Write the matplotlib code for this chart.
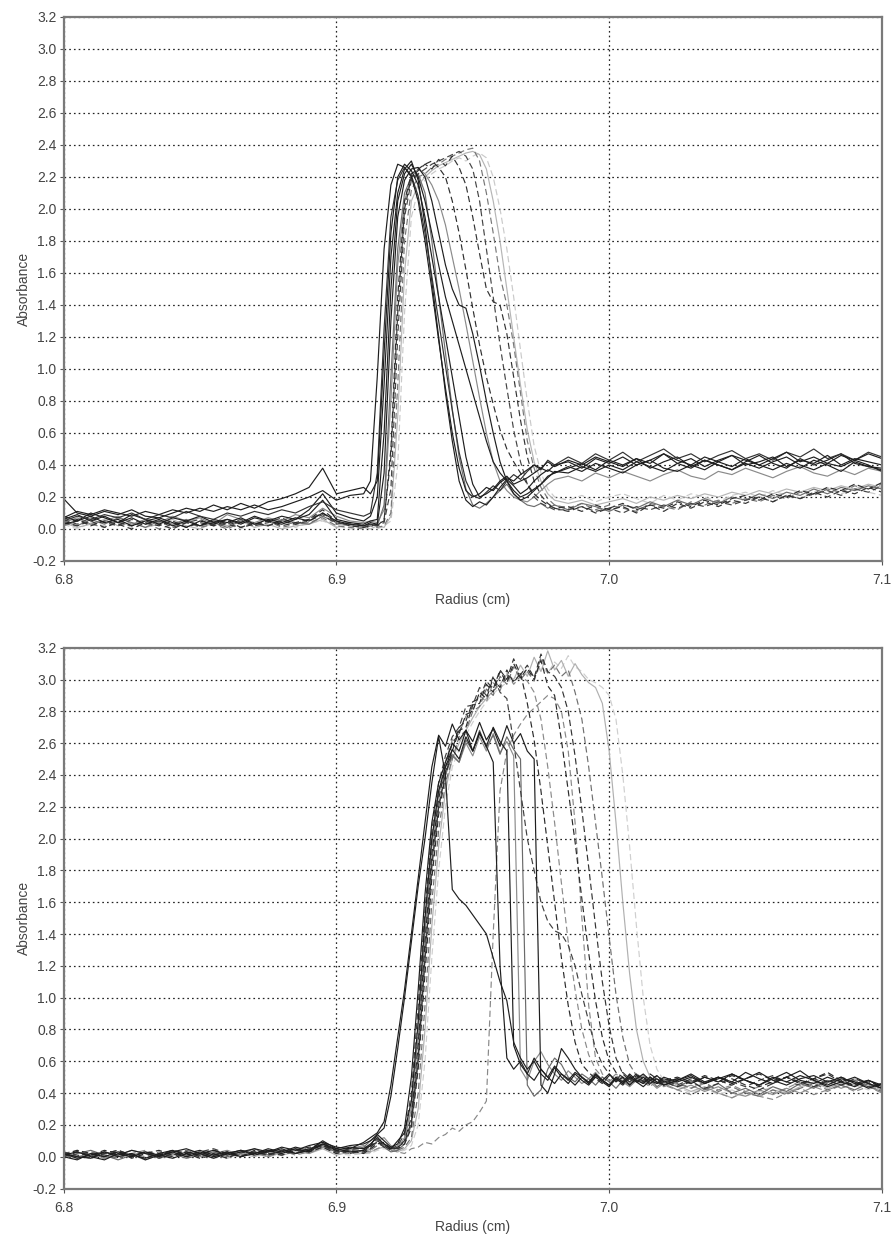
import numpy as np
import matplotlib
matplotlib.use("Agg")
import matplotlib.pyplot as plt

plt.rcParams['font.family'] = ['Liberation Sans', 'DejaVu Sans']
plt.rcParams['axes.unicode_minus'] = False
plt.rcParams['lines.scale_dashes'] = False

# radial sampling positions (cm), coarser on the plateaus, finer across the boundary
top_x = np.round(np.concatenate([np.arange(6.800, 6.906, 0.005),
                                 np.arange(6.910, 6.9801, 0.0025),
                                 np.arange(6.985, 7.1001, 0.005)]), 4)
bot_x = np.round(np.concatenate([np.arange(6.800, 6.906, 0.005),
                                 np.arange(6.910, 7.0201, 0.0025),
                                 np.arange(7.025, 7.1001, 0.005)]), 4)

# ---- top panel scans (absorbance) ----
top_s1 = [0.19, 0.10, 0.08, 0.11, 0.09, 0.12, 0.08, 0.07, 0.10, 0.13, 0.11, 0.15, 0.12, 0.16, 0.13, 0.17, 0.19, 0.22, 0.26, 0.38, 0.22, 0.24,
          0.26, 0.22, 0.30, 1.10, 1.85, 2.20, 2.28, 2.24, 2.15, 1.95, 1.70, 1.45, 1.20, 0.95, 0.70, 0.45, 0.28, 0.20, 0.22, 0.25, 0.30, 0.33, 0.28, 0.30, 0.32, 0.35, 0.38, 0.36, 0.40,
          0.42, 0.38, 0.44, 0.41, 0.45, 0.40, 0.43, 0.47, 0.41, 0.44, 0.39, 0.43, 0.46, 0.40, 0.42, 0.45, 0.39, 0.43, 0.41, 0.46, 0.40, 0.44, 0.42, 0.40]
top_s2 = [0.06, 0.09, 0.05, 0.08, 0.04, 0.07, 0.03, 0.06, 0.02, 0.05, 0.08, 0.04, 0.06, 0.03, 0.07, 0.05, 0.08, 0.06, 0.12, 0.22, 0.10, 0.07,
          0.05, 0.08, 0.20, 0.90, 1.70, 2.10, 2.25, 2.30, 2.18, 1.90, 1.55, 1.20, 0.85, 0.55, 0.30, 0.18, 0.14, 0.17, 0.15, 0.20, 0.26, 0.31, 0.27, 0.22, 0.25, 0.30, 0.34, 0.37, 0.35,
          0.38, 0.41, 0.37, 0.43, 0.40, 0.44, 0.38, 0.42, 0.45, 0.39, 0.43, 0.40, 0.37, 0.42, 0.46, 0.41, 0.38, 0.44, 0.40, 0.43, 0.47, 0.41, 0.39, 0.38]
top_s3 = [0.03, 0.05, 0.08, 0.04, 0.06, 0.02, 0.05, 0.07, 0.04, 0.01, 0.05, 0.03, 0.06, 0.04, 0.08, 0.05, 0.03, 0.06, 0.09, 0.18, 0.06, 0.04,
          0.03, 0.05, 0.06, 0.60, 1.50, 2.05, 2.22, 2.28, 2.20, 2.05, 1.85, 1.65, 1.45, 1.30, 1.15, 1.00, 0.85, 0.70, 0.55, 0.42, 0.35, 0.30, 0.24, 0.20, 0.22, 0.25, 0.28, 0.32, 0.36,
          0.35, 0.39, 0.36, 0.40, 0.37, 0.42, 0.39, 0.36, 0.41, 0.38, 0.43, 0.40, 0.37, 0.41, 0.38, 0.42, 0.45, 0.40, 0.37, 0.41, 0.39, 0.43, 0.40, 0.36]
top_s4 = [0.08, 0.05, 0.10, 0.07, 0.04, 0.09, 0.06, 0.03, 0.07, 0.05, 0.02, 0.06, 0.04, 0.07, 0.03, 0.06, 0.04, 0.07, 0.05, 0.10, 0.05, 0.03,
          0.02, 0.04, 0.03, 0.35, 1.30, 1.95, 2.18, 2.25, 2.26, 2.20, 2.05, 1.85, 1.65, 1.50, 1.40, 1.38, 1.22, 1.02, 0.80, 0.60, 0.42, 0.30, 0.22, 0.18, 0.20, 0.24, 0.28, 0.33, 0.35,
          0.39, 0.36, 0.41, 0.38, 0.35, 0.40, 0.43, 0.38, 0.36, 0.40, 0.37, 0.42, 0.39, 0.44, 0.40, 0.37, 0.41, 0.38, 0.43, 0.40, 0.36, 0.42, 0.39, 0.37]
top_s5 = [0.07, 0.11, 0.09, 0.12, 0.10, 0.08, 0.11, 0.09, 0.12, 0.10, 0.13, 0.11, 0.14, 0.12, 0.15, 0.12, 0.14, 0.17, 0.20, 0.24, 0.18, 0.21,
          0.22, 0.30, 0.95, 1.75, 2.15, 2.28, 2.26, 2.20, 2.05, 1.80, 1.50, 1.18, 0.88, 0.60, 0.38, 0.24, 0.20, 0.22, 0.26, 0.24, 0.29, 0.32, 0.30, 0.34, 0.37, 0.40, 0.38, 0.42, 0.39,
          0.43, 0.40, 0.45, 0.42, 0.39, 0.44, 0.41, 0.47, 0.43, 0.40, 0.45, 0.42, 0.46, 0.43, 0.40, 0.44, 0.48, 0.42, 0.45, 0.41, 0.46, 0.43, 0.47, 0.44]
top_s6 = [0.05, 0.08, 0.06, 0.09, 0.07, 0.10, 0.06, 0.09, 0.07, 0.11, 0.08, 0.06, 0.10, 0.08, 0.11, 0.09, 0.12, 0.10, 0.14, 0.17, 0.12, 0.10,
          0.08, 0.10, 0.35, 1.25, 1.95, 2.18, 2.26, 2.21, 2.08, 1.85, 1.58, 1.30, 1.02, 0.74, 0.48, 0.30, 0.21, 0.19, 0.23, 0.27, 0.24, 0.30, 0.34, 0.31, 0.36, 0.40, 0.37, 0.43, 0.40,
          0.45, 0.41, 0.47, 0.43, 0.48, 0.42, 0.46, 0.50, 0.44, 0.47, 0.42, 0.46, 0.49, 0.44, 0.47, 0.43, 0.48, 0.45, 0.50, 0.44, 0.47, 0.43, 0.48, 0.45]
top_g1 = [0.05, 0.02, 0.06, 0.03, 0.07, 0.04, 0.01, 0.05, 0.03, 0.06, 0.02, 0.04, 0.01, 0.05, 0.03, 0.02, 0.06, 0.04, 0.03, 0.08, 0.04, 0.02,
          0.01, 0.03, 0.02, 0.15, 0.95, 1.75, 2.10, 2.20, 2.22, 2.10, 1.80, 1.45, 1.10, 0.75, 0.45, 0.25, 0.15, 0.13, 0.16, 0.20, 0.24, 0.28, 0.22, 0.18, 0.15, 0.14, 0.16, 0.13, 0.15,
          0.12, 0.16, 0.14, 0.11, 0.15, 0.13, 0.17, 0.14, 0.18, 0.15, 0.19, 0.16, 0.20, 0.18, 0.22, 0.19, 0.23, 0.21, 0.25, 0.22, 0.26, 0.24, 0.27, 0.25]
top_g2 = [0.04, 0.07, 0.03, 0.05, 0.08, 0.03, 0.06, 0.04, 0.08, 0.05, 0.07, 0.03, 0.09, 0.06, 0.04, 0.07, 0.05, 0.09, 0.07, 0.13, 0.08, 0.05,
          0.04, 0.05, 0.04, 0.12, 0.80, 1.65, 2.05, 2.20, 2.25, 2.22, 2.15, 2.05, 1.90, 1.70, 1.50, 1.28, 1.05, 0.82, 0.60, 0.42, 0.30, 0.24, 0.20, 0.18, 0.17, 0.20, 0.24, 0.28, 0.31,
          0.33, 0.30, 0.35, 0.32, 0.36, 0.33, 0.30, 0.34, 0.37, 0.33, 0.31, 0.36, 0.34, 0.38, 0.35, 0.32, 0.36, 0.39, 0.35, 0.33, 0.37, 0.34, 0.38, 0.36]
top_d1 = [0.03, 0.06, 0.02, 0.05, 0.03, 0.00, 0.04, 0.02, 0.05, 0.01, 0.04, 0.02, 0.05, 0.01, 0.03, 0.05, 0.02, 0.04, 0.06, 0.12, 0.05, 0.02,
          0.01, 0.02, 0.03, 0.05, 0.50, 1.45, 2.05, 2.22, 2.25, 2.28, 2.30, 2.26, 2.20, 2.05, 1.85, 1.62, 1.38, 1.15, 0.95, 0.78, 0.62, 0.50, 0.42, 0.35, 0.28, 0.22, 0.18, 0.15, 0.13,
          0.14, 0.11, 0.15, 0.12, 0.14, 0.10, 0.15, 0.13, 0.17, 0.14, 0.18, 0.15, 0.19, 0.21, 0.18, 0.22, 0.20, 0.24, 0.22, 0.26, 0.24, 0.28, 0.25, 0.29]
top_d2 = [0.06, 0.03, 0.07, 0.04, 0.02, 0.06, 0.03, 0.05, 0.01, 0.04, 0.06, 0.02, 0.03, 0.06, 0.02, 0.04, 0.07, 0.03, 0.05, 0.09, 0.03, 0.04,
          0.02, 0.03, 0.02, 0.04, 0.25, 1.20, 1.95, 2.18, 2.22, 2.25, 2.28, 2.30, 2.32, 2.34, 2.36, 2.33, 2.25, 2.05, 1.75, 1.45, 1.15, 0.88, 0.62, 0.42, 0.28, 0.20, 0.16, 0.14, 0.12,
          0.12, 0.14, 0.11, 0.13, 0.10, 0.14, 0.12, 0.15, 0.13, 0.16, 0.14, 0.17, 0.15, 0.18, 0.20, 0.17, 0.21, 0.19, 0.22, 0.24, 0.21, 0.25, 0.23, 0.27]
top_d3 = [0.02, 0.05, 0.03, 0.01, 0.05, 0.02, 0.04, 0.00, 0.03, 0.05, 0.01, 0.03, 0.00, 0.04, 0.02, 0.05, 0.01, 0.03, 0.04, 0.07, 0.02, 0.01,
          0.00, 0.02, 0.01, 0.02, 0.10, 0.90, 1.80, 2.12, 2.20, 2.22, 2.26, 2.28, 2.31, 2.33, 2.35, 2.37, 2.38, 2.30, 2.10, 1.85, 1.58, 1.40, 1.15, 0.85, 0.55, 0.38, 0.26, 0.19, 0.15,
          0.13, 0.16, 0.12, 0.15, 0.13, 0.11, 0.16, 0.14, 0.12, 0.17, 0.15, 0.18, 0.16, 0.19, 0.17, 0.21, 0.19, 0.23, 0.21, 0.25, 0.23, 0.27, 0.25, 0.28]
top_d4 = [0.04, 0.02, 0.05, 0.01, 0.04, 0.02, 0.05, 0.03, 0.00, 0.04, 0.02, 0.05, 0.03, 0.01, 0.04, 0.02, 0.05, 0.03, 0.06, 0.10, 0.04, 0.03,
          0.02, 0.03, 0.02, 0.06, 0.45, 1.35, 2.00, 2.20, 2.24, 2.28, 2.25, 2.31, 2.27, 2.33, 2.26, 2.15, 1.95, 1.72, 1.50, 1.42, 1.40, 1.22, 0.95, 0.68, 0.45, 0.30, 0.21, 0.16, 0.13,
          0.11, 0.14, 0.10, 0.13, 0.16, 0.12, 0.15, 0.11, 0.16, 0.13, 0.17, 0.14, 0.18, 0.16, 0.20, 0.17, 0.21, 0.19, 0.23, 0.20, 0.24, 0.22, 0.26, 0.23]
top_l1 = [0.04, 0.01, 0.03, 0.06, 0.02, 0.04, 0.01, 0.03, 0.06, 0.02, 0.00, 0.04, 0.02, 0.05, 0.01, 0.03, 0.00, 0.02, 0.03, 0.06, 0.01, 0.03,
          0.01, 0.00, 0.02, 0.01, 0.08, 0.70, 1.60, 2.05, 2.15, 2.20, 2.24, 2.27, 2.29, 2.31, 2.33, 2.35, 2.36, 2.34, 2.25, 2.05, 1.80, 1.50, 1.20, 0.90, 0.62, 0.42, 0.30, 0.22, 0.18,
          0.16, 0.18, 0.15, 0.17, 0.19, 0.16, 0.20, 0.18, 0.21, 0.19, 0.22, 0.20, 0.23, 0.21, 0.24, 0.22, 0.25, 0.23, 0.26, 0.24, 0.27, 0.25, 0.28, 0.26]
top_l2 = [0.03, 0.00, 0.04, 0.02, 0.05, 0.01, 0.03, 0.05, 0.02, 0.04, 0.01, 0.05, 0.03, 0.00, 0.04, 0.02, 0.05, 0.01, 0.04, 0.05, 0.02, 0.00,
          0.01, 0.02, 0.00, 0.02, 0.05, 0.40, 1.35, 1.95, 2.12, 2.18, 2.22, 2.25, 2.27, 2.30, 2.32, 2.30, 2.33, 2.35, 2.32, 2.20, 2.00, 1.75, 1.45, 1.12, 0.80, 0.52, 0.35, 0.25, 0.20,
          0.18, 0.21, 0.17, 0.20, 0.22, 0.19, 0.16, 0.21, 0.18, 0.22, 0.20, 0.17, 0.21, 0.23, 0.20, 0.24, 0.21, 0.19, 0.23, 0.26, 0.22, 0.25, 0.23, 0.21]

# ---- bottom panel scans (absorbance) ----
bot_e1 = [0.00, -0.02, 0.02, 0.00, 0.03, 0.01, -0.01, 0.02, 0.04, 0.01, 0.03, 0.00, 0.02, 0.04, 0.02, 0.05, 0.03, 0.06, 0.04, 0.10, 0.05, 0.07,
          0.08, 0.10, 0.14, 0.18, 0.38, 0.68, 1.00, 1.35, 1.70, 2.00, 2.35, 2.64, 2.40, 1.68, 1.62, 1.58, 1.52, 1.46, 1.40, 1.25, 1.10, 0.98, 0.72, 0.62, 0.55, 0.60, 0.52, 0.48, 0.56,
          0.50, 0.46, 0.52, 0.48, 0.45, 0.50, 0.47, 0.44, 0.49, 0.46, 0.50, 0.47, 0.44, 0.48, 0.51, 0.47,
          0.49, 0.46, 0.50, 0.47, 0.52, 0.48, 0.45, 0.49, 0.53, 0.48, 0.46, 0.50, 0.47, 0.44, 0.48, 0.45]
bot_e2 = [0.02, 0.00, -0.01, 0.03, 0.01, 0.04, 0.02, 0.00, 0.03, 0.05, 0.02, 0.04, 0.01, 0.03, 0.05, 0.03, 0.06, 0.04, 0.07, 0.09, 0.06, 0.05,
          0.09, 0.12, 0.15, 0.22, 0.45, 0.75, 1.05, 1.40, 1.75, 2.10, 2.45, 2.65, 2.58, 2.72, 2.62, 2.68, 2.55, 2.66, 2.58, 2.48, 1.20, 0.62, 0.55, 0.60, 0.52, 0.48, 0.55, 0.50, 0.46,
          0.52, 0.49, 0.45, 0.50, 0.47, 0.52, 0.48, 0.45, 0.49, 0.46, 0.51, 0.47, 0.50, 0.46, 0.49, 0.45,
          0.48, 0.51, 0.46, 0.50, 0.47, 0.53, 0.49, 0.46, 0.50, 0.54, 0.48, 0.45, 0.49, 0.47, 0.43, 0.46]
bot_e3 = [0.01, 0.03, 0.00, -0.02, 0.02, 0.00, 0.03, 0.01, -0.01, 0.02, 0.04, 0.01, 0.03, 0.00, 0.02, 0.04, 0.02, 0.05, 0.03, 0.08, 0.04, 0.06,
          0.05, 0.08, 0.12, 0.08, 0.05, 0.10, 0.15, 0.35, 0.85, 1.50, 2.00, 2.30, 2.45, 2.56, 2.50, 2.64, 2.55, 2.67, 2.58, 2.70, 2.61, 2.55, 0.70, 0.58, 0.52, 0.62, 0.55, 0.50, 0.57,
          0.52, 0.48, 0.53, 0.50, 0.46, 0.51, 0.48, 0.52, 0.47, 0.50, 0.45, 0.49, 0.52, 0.48, 0.46, 0.50,
          0.47, 0.50, 0.46, 0.49, 0.52, 0.48, 0.45, 0.50, 0.47, 0.51, 0.48, 0.44, 0.47, 0.50, 0.46, 0.43]
bot_e4 = [-0.01, 0.02, 0.04, 0.01, -0.02, 0.01, 0.03, 0.00, 0.02, -0.01, 0.01, 0.03, 0.00, 0.02, 0.05, 0.01, 0.04, 0.02, 0.05, 0.07, 0.03, 0.04,
          0.06, 0.10, 0.13, 0.06, 0.03, 0.04, 0.08, 0.20, 0.60, 1.25, 1.85, 2.20, 2.40, 2.52, 2.48, 2.62, 2.55, 2.68, 2.57, 2.65, 2.53, 2.64, 2.56, 2.50, 0.45, 0.38, 0.42, 0.55, 0.62,
          0.58, 0.50, 0.47, 0.52, 0.49, 0.45, 0.50, 0.47, 0.43, 0.48, 0.45, 0.50, 0.46, 0.49, 0.44, 0.47,
          0.44, 0.48, 0.42, 0.46, 0.40, 0.43, 0.39, 0.44, 0.41, 0.46, 0.43, 0.48, 0.45, 0.42, 0.46, 0.43]
bot_e5 = [0.02, -0.01, 0.01, 0.03, 0.00, 0.02, -0.02, 0.01, 0.03, 0.00, 0.02, -0.01, 0.02, 0.04, 0.01, 0.03, 0.05, 0.02, 0.04, 0.08, 0.05, 0.03,
          0.04, 0.07, 0.14, 0.10, 0.06, 0.08, 0.18, 0.50, 1.05, 1.65, 2.10, 2.35, 2.48, 2.60, 2.55, 2.68, 2.61, 2.73, 2.62, 2.69, 2.58, 2.71, 2.60, 2.66, 2.55, 2.50, 0.45, 0.40, 0.52,
          0.68, 0.62, 0.55, 0.50, 0.46, 0.52, 0.48, 0.45, 0.50, 0.47, 0.52, 0.48, 0.46, 0.50, 0.47, 0.45,
          0.48, 0.52, 0.47, 0.50, 0.46, 0.49, 0.53, 0.48, 0.45, 0.49, 0.51, 0.47, 0.50, 0.46, 0.48, 0.44]
bot_e6 = [0.03, 0.00, 0.02, -0.01, 0.01, 0.04, 0.02, -0.01, 0.01, 0.03, 0.00, 0.02, 0.04, 0.01, 0.03, 0.00, 0.03, 0.05, 0.02, 0.06, 0.03, 0.05,
          0.07, 0.04, 0.10, 0.12, 0.07, 0.05, 0.12, 0.30, 0.75, 1.40, 1.95, 2.28, 2.42, 2.53, 2.48, 2.60, 2.52, 2.64, 2.55, 2.66, 2.54, 2.61, 2.52, 0.55, 0.48, 0.60, 0.66, 0.58, 0.52,
          0.48, 0.54, 0.50, 0.46, 0.49, 0.53, 0.48, 0.45, 0.50, 0.47, 0.44, 0.48, 0.51, 0.47, 0.43, 0.46,
          0.42, 0.45, 0.41, 0.44, 0.40, 0.38, 0.42, 0.39, 0.43, 0.40, 0.44, 0.47, 0.43, 0.46, 0.44, 0.41]
bot_f1 = [0.01, 0.04, 0.02, 0.00, 0.03, -0.01, 0.02, 0.04, 0.01, 0.03, 0.00, 0.02, -0.01, 0.03, 0.01, 0.04, 0.02, 0.04, 0.06, 0.07, 0.04, 0.03,
          0.03, 0.06, 0.10, 0.07, 0.04, 0.06, 0.10, 0.25, 0.70, 1.35, 1.90, 2.25, 2.45, 2.60, 2.66, 2.78, 2.80, 2.92, 2.88, 3.01, 2.95, 3.06, 2.98, 3.04, 2.85, 2.62, 2.30, 1.95, 1.60,
          1.25, 0.95, 0.72, 0.58, 0.53, 0.49, 0.46, 0.51, 0.48, 0.45, 0.49, 0.52, 0.47, 0.50, 0.46, 0.48,
          0.50, 0.47, 0.51, 0.48, 0.45, 0.49, 0.52, 0.48, 0.50, 0.46, 0.49, 0.53, 0.48, 0.45, 0.47, 0.44]
bot_f2 = [0.00, 0.03, 0.01, 0.04, 0.02, 0.00, 0.03, 0.01, 0.04, 0.02, -0.01, 0.01, 0.03, 0.00, 0.04, 0.02, 0.01, 0.04, 0.03, 0.06, 0.02, 0.04,
          0.02, 0.05, 0.08, 0.09, 0.05, 0.05, 0.08, 0.18, 0.55, 1.15, 1.75, 2.15, 2.40, 2.55, 2.68, 2.70, 2.84, 2.85, 2.97, 2.92, 3.05, 2.98, 3.10, 3.01, 3.07, 3.00, 3.12, 2.96, 2.90,
          2.62, 2.30, 1.98, 1.62, 1.28, 0.98, 0.75, 0.60, 0.53, 0.50, 0.47, 0.51, 0.48, 0.52, 0.49, 0.46,
          0.49, 0.46, 0.50, 0.47, 0.51, 0.48, 0.44, 0.47, 0.50, 0.46, 0.49, 0.52, 0.47, 0.45, 0.48, 0.43]
bot_f3 = [0.02, 0.00, 0.03, 0.01, -0.01, 0.02, 0.00, 0.03, 0.01, 0.04, 0.02, 0.00, 0.03, 0.01, 0.02, 0.04, 0.01, 0.03, 0.05, 0.08, 0.03, 0.02,
          0.03, 0.04, 0.07, 0.08, 0.06, 0.04, 0.06, 0.12, 0.40, 0.95, 1.60, 2.05, 2.35, 2.50, 2.64, 2.68, 2.80, 2.83, 2.94, 2.90, 3.02, 2.97, 3.08, 3.00, 3.05, 2.99, 3.14, 3.04, 3.09,
          3.02, 3.06, 2.92, 2.75, 2.45, 2.10, 1.75, 1.38, 1.02, 0.75, 0.58, 0.51, 0.47, 0.50, 0.46, 0.49,
          0.46, 0.43, 0.47, 0.41, 0.44, 0.40, 0.38, 0.42, 0.39, 0.43, 0.46, 0.42, 0.45, 0.48, 0.44, 0.41]
bot_f4 = [0.03, 0.01, -0.01, 0.02, 0.04, 0.01, 0.03, -0.01, 0.02, 0.00, 0.03, 0.05, 0.02, 0.00, 0.03, 0.01, 0.04, 0.02, 0.05, 0.09, 0.04, 0.02,
          0.04, 0.07, 0.11, 0.08, 0.05, 0.07, 0.14, 0.40, 0.95, 1.55, 2.05, 2.35, 2.52, 2.64, 2.70, 2.83, 2.84, 2.95, 2.90, 3.02, 2.92, 2.88, 2.60, 2.30, 2.00, 1.80, 1.60, 1.48, 1.42,
          1.40, 1.33, 1.20, 1.02, 0.85, 0.68, 0.58, 0.52, 0.48, 0.53, 0.49, 0.46, 0.50, 0.47, 0.51, 0.48,
          0.45, 0.49, 0.46, 0.50, 0.47, 0.44, 0.48, 0.51, 0.47, 0.45, 0.49, 0.46, 0.50, 0.47, 0.44, 0.46]
bot_f5 = [0.01, 0.03, 0.00, 0.02, 0.04, 0.01, -0.01, 0.02, 0.00, 0.03, 0.01, 0.04, 0.02, 0.00, 0.03, 0.01, 0.04, 0.02, 0.04, 0.07, 0.03, 0.05,
          0.05, 0.07, 0.09, 0.06, 0.05, 0.06, 0.09, 0.22, 0.62, 1.25, 1.82, 2.20, 2.42, 2.56, 2.70, 2.74, 2.86, 2.88, 2.99, 2.94, 3.06, 3.00, 3.13, 3.03, 3.09, 3.01, 3.16, 3.05, 3.02,
          2.95, 2.80, 2.52, 2.18, 1.82, 1.45, 1.10, 0.82, 0.62, 0.52, 0.48, 0.52, 0.49, 0.45, 0.50, 0.47,
          0.44, 0.47, 0.43, 0.46, 0.49, 0.45, 0.42, 0.46, 0.50, 0.47, 0.44, 0.48, 0.45, 0.49, 0.46, 0.43]
bot_f6 = [0.02, 0.04, 0.01, -0.01, 0.02, 0.00, 0.03, 0.01, 0.04, 0.02, 0.00, 0.03, 0.01, 0.04, 0.02, 0.00, 0.03, 0.05, 0.03, 0.06, 0.02, 0.04,
          0.04, 0.06, 0.09, 0.07, 0.05, 0.07, 0.11, 0.30, 0.80, 1.45, 1.98, 2.30, 2.48, 2.62, 2.66, 2.77, 2.82, 2.90, 2.86, 2.98, 2.93, 3.04, 2.97, 3.02, 2.99, 2.92, 2.75, 2.45, 2.10,
          1.72, 1.35, 1.05, 0.80, 0.64, 0.55, 0.50, 0.47, 0.51, 0.48, 0.45, 0.49, 0.46, 0.50, 0.47, 0.44,
          0.47, 0.43, 0.46, 0.42, 0.45, 0.41, 0.44, 0.40, 0.43, 0.47, 0.44, 0.41, 0.45, 0.48, 0.44, 0.42]
bot_h1 = [0.01, -0.01, 0.02, 0.00, 0.03, 0.01, -0.02, 0.01, 0.03, 0.00, 0.02, 0.01, -0.01, 0.02, 0.00, 0.03, 0.01, 0.03, 0.02, 0.05, 0.01, 0.03,
          0.02, 0.03, 0.05, 0.06, 0.05, 0.03, 0.05, 0.10, 0.30, 0.80, 1.45, 1.95, 2.30, 2.50, 2.60, 2.68, 2.76, 2.83, 2.88, 2.93, 2.97, 3.03, 3.00, 3.09, 3.02, 3.14, 3.05, 3.18, 3.06,
          3.12, 3.02, 3.10, 3.03, 2.98, 2.95, 2.85, 2.55, 2.10, 1.60, 1.15, 0.80, 0.60, 0.50, 0.46, 0.49,
          0.45, 0.41, 0.44, 0.40, 0.37, 0.41, 0.38, 0.42, 0.40, 0.44, 0.47, 0.43, 0.46, 0.49, 0.45, 0.42]
bot_h2 = [0.00, 0.02, -0.01, 0.01, 0.03, 0.00, 0.02, 0.00, 0.02, 0.04, 0.01, -0.01, 0.02, 0.01, 0.03, 0.00, 0.02, 0.04, 0.03, 0.06, 0.02, 0.01,
          0.02, 0.02, 0.04, 0.05, 0.04, 0.03, 0.04, 0.07, 0.20, 0.60, 1.25, 1.80, 2.20, 2.45, 2.56, 2.65, 2.73, 2.80, 2.86, 2.91, 2.95, 2.98, 3.02, 3.00, 3.05, 3.02, 3.08, 3.04, 3.11,
          3.07, 3.15, 3.08, 3.05, 3.00, 2.98, 2.95, 2.90, 2.75, 2.40, 1.95, 1.45, 1.00, 0.70, 0.55, 0.48,
          0.44, 0.40, 0.43, 0.39, 0.42, 0.38, 0.41, 0.44, 0.40, 0.43, 0.47, 0.44, 0.48, 0.45, 0.42, 0.46]
bot_k1 = [0.02, 0.00, 0.03, 0.01, 0.00, 0.02, 0.04, 0.01, 0.00, 0.03, 0.01, 0.04, 0.02, 0.00, 0.03, 0.02, 0.04, 0.01, 0.03, 0.06, 0.04, 0.03,
          0.04, 0.03, 0.05, 0.07, 0.04, 0.03, 0.02, 0.05, 0.06, 0.09, 0.08, 0.12, 0.14, 0.18, 0.16, 0.20, 0.22, 0.28, 0.35, 1.40, 2.30, 2.55, 2.65, 2.72, 2.78, 2.82, 2.86, 2.90, 2.88,
          2.80, 2.55, 2.10, 1.50, 0.95, 0.62, 0.52, 0.48, 0.52, 0.49, 0.46, 0.50, 0.47, 0.44, 0.48, 0.45,
          0.42, 0.39, 0.43, 0.40, 0.37, 0.41, 0.38, 0.36, 0.40, 0.43, 0.39, 0.42, 0.45, 0.41, 0.44, 0.40]

DARK = '#1e1e1e'
SOLID = '-'
DASH = (0, (4.5, 2.5))

# drawn in this order: light scans first, dark ones on top
top_scans = [(top_l2, '#cacaca', DASH), (top_l1, '#b5b5b5', SOLID),
             (top_d3, '#777777', DASH), (top_g2, '#8a8a8a', SOLID),
             (top_g1, '#6e6e6e', SOLID), (top_d2, '#444444', DASH),
             (top_d4, '#333333', DASH), (top_d1, '#2e2e2e', DASH),
             (top_s4, DARK, SOLID), (top_s3, DARK, SOLID),
             (top_s2, DARK, SOLID), (top_s6, '#333333', SOLID),
             (top_s5, DARK, SOLID), (top_s1, DARK, SOLID)]
bot_scans = [(bot_h2, '#cfcfcf', DASH), (bot_h1, '#b0b0b0', SOLID),
             (bot_k1, '#888888', DASH), (bot_e6, '#8c8c8c', SOLID),
             (bot_f6, '#8a8a8a', DASH), (bot_f3, '#6f6f6f', DASH),
             (bot_e4, '#6a6a6a', SOLID), (bot_f4, '#404040', DASH),
             (bot_f5, '#333333', DASH), (bot_f2, '#2a2a2a', DASH),
             (bot_f1, '#2a2a2a', DASH), (bot_e5, DARK, SOLID),
             (bot_e3, DARK, SOLID), (bot_e2, DARK, SOLID),
             (bot_e1, DARK, SOLID)]

y_ticks = np.round(np.arange(-0.2, 3.21, 0.2), 1)
x_ticks = [6.8, 6.9, 7.0, 7.1]

fig = plt.figure(figsize=(8.92, 12.37), dpi=100)
W, H = 892.0, 1237.0
ax_top = fig.add_axes([63.5 / W, 1 - 561 / H, 818.5 / W, 544 / H])
ax_bot = fig.add_axes([63.5 / W, 1 - 1188.5 / H, 818.5 / W, 540.8 / H])

for ax, xs, scans in [(ax_top, top_x, top_scans), (ax_bot, bot_x, bot_scans)]:
    for ys, col, ls in scans:
        assert len(ys) == len(xs)
        ax.plot(xs, ys, color=col, linestyle=ls, linewidth=0.85, zorder=2)
    ax.set_xlim(6.8, 7.1)
    ax.set_ylim(-0.2, 3.2)
    ax.set_xticks(x_ticks)
    ax.set_xticklabels(['%.1f' % v for v in x_ticks])
    ax.set_yticks(y_ticks)
    ax.set_yticklabels(['%.1f' % v for v in y_ticks])
    ax.set_axisbelow(True)
    ax.grid(True, color='#222222', linestyle=(0, (1.2, 2.2)), linewidth=0.9)
    for sp in ax.spines.values():
        sp.set_color('#7a7a7a')
        sp.set_linewidth(1.6)
    ax.tick_params(axis='both', labelsize=10, colors='#555555', labelcolor='#444444',
                   length=3, width=0.8, pad=2)
    ax.tick_params(axis='x', pad=6)
    ax.set_xlabel('Radius (cm)', fontsize=10, color='#444444')
    ax.set_ylabel('Absorbance', fontsize=10, color='#444444')
    ax.xaxis.label.set_va('center')
    ax.yaxis.label.set_va('center')
    ax.yaxis.set_label_coords(-0.048, 0.5)

ax_top.xaxis.set_label_coords(0.5, -39 / 544)
ax_bot.xaxis.set_label_coords(0.5, -38.5 / 540.8)

fig.savefig('out.png', dpi=100)
